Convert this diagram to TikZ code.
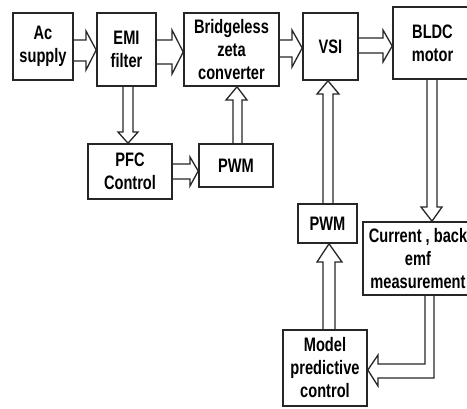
\documentclass[tikz,border=0pt]{standalone}
\usepackage{fontspec}
\setmainfont[FakeStretch=0.75]{Liberation Sans}
\begin{document}
\begin{tikzpicture}[x=1pt,y=-1pt,
  box/.style={draw=black!85, line width=1.6pt, fill=white, align=center, inner sep=0pt,
    font=\fontsize{19.5}{23}\selectfont\bfseries},
  blk/.style={draw=black!85, line width=1.3pt, line join=miter}]
\useasboundingbox (0,0) rectangle (467,408);
\clip (0,0) rectangle (467,408);
% boxes
\node[box,minimum width=60pt,minimum height=67pt] (ac) at (43,46.5) {Ac\\supply};
\node[box,minimum width=59pt,minimum height=73pt] (emi) at (126.5,49.5) {EMI\\filter};
\node[box,minimum width=95pt,minimum height=73pt] (zeta) at (231.5,49.5) {Bridgeless\\zeta\\converter};
\node[box,minimum width=55pt,minimum height=67pt] (vsi) at (330.5,46.5) {VSI};
\node[box,minimum width=79pt,minimum height=72pt] (bldc) at (432.5,43) {BLDC\\motor};
\node[box,minimum width=84pt,minimum height=55pt] (pfc) at (130,171.5) {PFC\\Control};
\node[box,minimum width=74pt,minimum height=43pt] (pwma) at (236,165.5) {PWM};
\node[box,minimum width=59pt,minimum height=39pt] (pwmb) at (327.5,223.5) {PWM};
\node[box,minimum width=110pt,minimum height=73pt] (cur) at (418,258.5) {Current , back\\emf\\measurement};
\node[box,minimum width=84pt,minimum height=76pt] (mpc) at (325,368) {Model\\predictive\\control};
% block arrows
\draw[blk] (ac.east |- 0,40) -- (86,40) -- (86,31) -- (emi.west |- 0,50) -- (86,70) -- (86,61) -- (ac.east |- 0,61);
\draw[blk] (emi.east |- 0,40) -- (172,40) -- (172,30) -- (zeta.west |- 0,52) -- (172,74) -- (172,64) -- (emi.east |- 0,64);
\draw[blk] (zeta.east |- 0,40) -- (292,40) -- (292,30) -- (vsi.west |- 0,48) -- (292,67) -- (292,57) -- (zeta.east |- 0,57);
\draw[blk] (vsi.east |- 0,38) -- (383,38) -- (383,30) -- (bldc.west |- 0,46) -- (383,62) -- (383,53) -- (vsi.east |- 0,53);
\draw[blk] (emi.south -| 123,0) -- (123,132) -- (118,132) -- (pfc.north -| 128,0) -- (138,132) -- (133,132) -- (emi.south -| 133,0);
\draw[blk] (pfc.east |- 0,164) -- (190,164) -- (190,157) -- (pwma.west |- 0,171) -- (190,186) -- (190,179) -- (pfc.east |- 0,179);
\draw[blk] (pwma.north -| 233,0) -- (233,100) -- (226,100) -- (zeta.south -| 237,0) -- (247,100) -- (242,100) -- (pwma.north -| 242,0);
\draw[blk] (bldc.south -| 427,0) -- (427,207) -- (421,207) -- (cur.north -| 432,0) -- (442,207) -- (437,207) -- (bldc.south -| 437,0);
\draw[blk] (pwmb.north -| 323,0) -- (323,94) -- (317,94) -- (vsi.south -| 328,0) -- (339,94) -- (333,94) -- (pwmb.north -| 333,0);
\draw[blk] (mpc.north -| 323,0) -- (323,262) -- (317,262) -- (pwmb.south -| 329,0) -- (342,262) -- (335,262) -- (mpc.north -| 335,0);
\draw[blk] (cur.south -| 434,0) -- (434,378) -- (378,378) -- (378,386) -- (mpc.east |- 0,370) -- (378,355) -- (378,364) -- (425,364) -- (cur.south -| 425,0);
\end{tikzpicture}
\end{document}
